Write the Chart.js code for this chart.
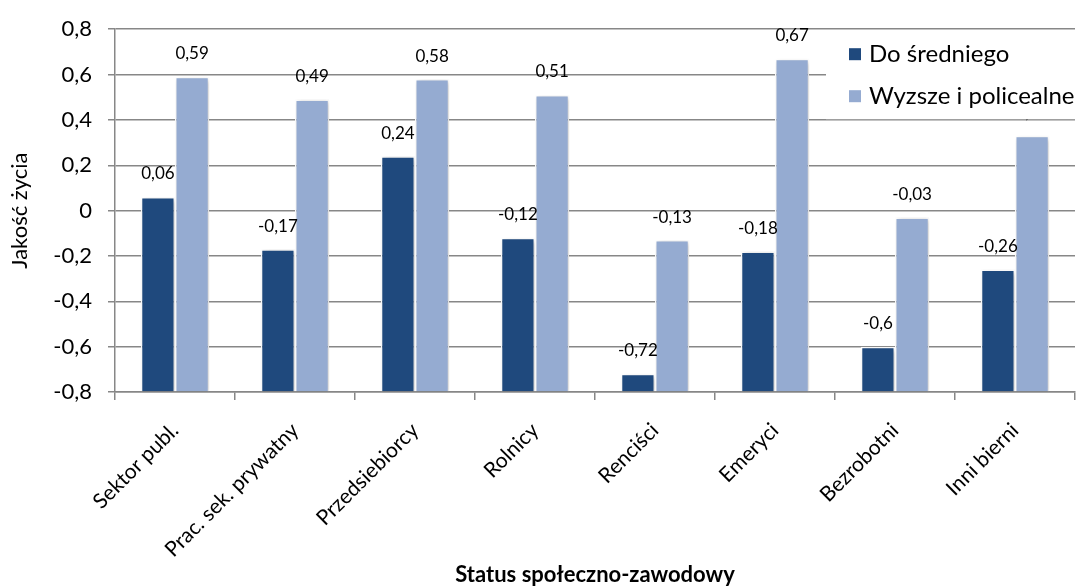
<!DOCTYPE html>
<html>
<head>
<meta charset="utf-8">
<script src="https://cdn.jsdelivr.net/npm/chart.js@4.4.0/dist/chart.umd.min.js"></script>
<style>
  html, body { margin: 0; padding: 0; background: #fff; }
  #wrap { width: 1081px; height: 588px; }
</style>
</head>
<body>
<div id="wrap"><canvas id="chart"></canvas></div>
<script>
// dane
const categories = ['Sektor publ.', 'Prac. sek. prywatny', 'Przedsiebiorcy', 'Rolnicy', 'Renciści', 'Emeryci', 'Bezrobotni', 'Inni bierni'];
const doSredniego = [0.06, -0.17, 0.24, -0.12, -0.72, -0.18, -0.6, -0.26];
const wyzsze = [0.59, 0.49, 0.58, 0.51, -0.13, 0.67, -0.03, 0.33];
const seriesNames = ['Do średniego', 'Wyzsze i policealne'];
const seriesColors = ['#1f497d', '#95abd1'];
const yMin = -0.8, yMax = 0.8, yStep = 0.2;

const FONT = 'Lato';
const GRID = '#878787';

// liczby z przecinkiem jak w oryginale
function plNum(v) {
    return String(Math.round(v * 100) / 100).replace('.', ',');
}

// lekki cien pod slupkami
const barShadow = {
    id: 'barShadow',
    beforeDatasetsDraw(chart) {
        const c = chart.ctx;
        c.save();
        c.shadowColor = 'rgba(0,0,0,0.25)';
        c.shadowBlur = 5;
        c.shadowOffsetX = 1.5;
        c.shadowOffsetY = 1.5;
    },
    afterDatasetsDraw(chart) {
        chart.ctx.restore();
    }
};

// etykiety wartosci nad slupkami
const valueLabels = {
    id: 'valueLabels',
    afterDatasetsDraw(chart) {
        const c = chart.ctx;
        c.save();
        c.font = '17px ' + FONT;
        c.fillStyle = '#000';
        c.textAlign = 'center';
        c.textBaseline = 'middle';
        chart.data.datasets.forEach((ds, i) => {
            chart.getDatasetMeta(i).data.forEach((bar, j) => {
                c.fillText(plNum(ds.data[j]), bar.x, bar.y - 23);
            });
        });
        c.restore();
    }
};

// legenda na bialym tle, zaslania fragment wykresu
const boxLegend = {
    id: 'boxLegend',
    afterDraw(chart) {
        const c = chart.ctx, a = chart.chartArea;
        const x0 = a.right - 249, y0 = a.top + 3;
        c.save();
        c.fillStyle = '#fff';
        c.fillRect(x0, y0, 260, 87);
        c.font = '24px ' + FONT;
        c.textAlign = 'left';
        c.textBaseline = 'middle';
        seriesNames.forEach((name, i) => {
            const cy = y0 + 22 + i * 42;
            c.fillStyle = seriesColors[i];
            c.fillRect(x0 + 23, cy - 6, 12, 12);
            c.fillStyle = '#000';
            c.fillText(name, x0 + 43, cy);
        });
        c.restore();
    }
};

Chart.defaults.font.family = FONT;
Chart.defaults.color = '#000';

const makeDs = (label, data, color) => ({
    label: label,
    data: data,
    backgroundColor: color,
    borderColor: '#fff',
    borderWidth: 1.5,
    base: yMin,
    categoryPercentage: 0.57,
    barPercentage: 1.0
});

new Chart(document.getElementById('chart').getContext('2d'), {
    type: 'bar',
    data: {
        labels: categories,
        datasets: [
            makeDs(seriesNames[0], doSredniego, seriesColors[0]),
            makeDs(seriesNames[1], wyzsze, seriesColors[1])
        ]
    },
    options: {
        responsive: true,
        maintainAspectRatio: false,
        animation: false,
        layout: { padding: { top: 21, right: 6, left: 0, bottom: 0 } },
        plugins: {
            legend: { display: false },
            tooltip: { enabled: false }
        },
        scales: {
            x: {
                grid: { drawOnChartArea: false, drawTicks: true, tickLength: 8, color: GRID, lineWidth: 1.5 },
                border: { color: GRID, width: 1.5 },
                ticks: { maxRotation: 45, minRotation: 45, font: { size: 21 }, color: '#000', padding: 18 },
                title: {
                    display: true,
                    text: 'Status społeczno-zawodowy',
                    font: { size: 22, weight: 'bold' },
                    color: '#000',
                    padding: { top: 0, bottom: 0 }
                },
                afterFit(s) { s.height = 196; }
            },
            y: {
                min: yMin,
                max: yMax,
                ticks: { stepSize: yStep, callback: v => plNum(v), font: { size: 22 }, color: '#000', padding: 16 },
                grid: { color: GRID, lineWidth: 1.5, tickLength: 7 },
                border: { color: GRID, width: 1.5 },
                title: {
                    display: true,
                    text: 'Jakość życia',
                    font: { size: 22 },
                    color: '#000',
                    padding: { top: 7, bottom: 0 }
                },
                afterFit(s) { s.width = 115; }
            }
        }
    },
    plugins: [barShadow, valueLabels, boxLegend]
});
</script>
</body>
</html>
